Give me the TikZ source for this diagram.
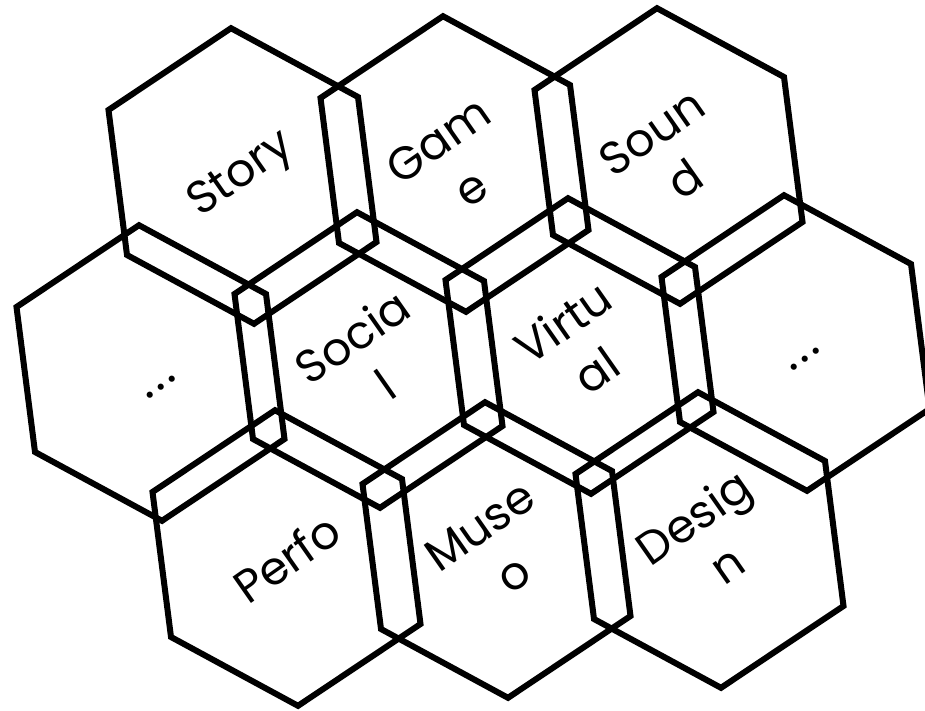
\documentclass[tikz,border=0pt]{standalone}
\usepackage{fontspec}
\usetikzlibrary{calc}
\setmainfont{Poppins}
\begin{document}
\begin{tikzpicture}[x=1pt,y=-1pt,
  hexa/.style={draw=black,line width=6pt,line join=miter},
  lab/.style={rotate=35,align=center,inner sep=0pt,font=\fontsize{46}{58}\selectfont},
  dotlab/.style={rotate=35,inner sep=0pt,font=\fontsize{50}{58}\selectfont}]
\useasboundingbox (0,0) rectangle (925,710);
\coordinate (story)  at (242.5,176);
\coordinate (game)   at (454.5,164);
\coordinate (sound)  at (668.5,156);
\coordinate (dotsl)  at (150.5,373);
\coordinate (social) at (368.5,360);
\coordinate (virtual) at (579.5,346);
\coordinate (dotsr)  at (795.5,343);
\coordinate (perfo)  at (286.5,558);
\coordinate (museo)  at (496.5,550);
\coordinate (design) at (709.5,540);
\foreach \c in {story,game,sound,dotsl,social,virtual,dotsr,perfo,museo,design}
  \draw[hexa,shift={(\c)}] (-11.5,-147.8) -- (115.5,-79) -- (134,66) -- (11.5,147.8) -- (-115.5,79) -- (-134,-66) -- cycle;
\node[lab] (tstory) at (story) {Story};
\node[lab] (tgame) at (game) {Gam\\e};
\node[lab] (tsound) at (sound) {Soun\\d};
\node[dotlab] (tdotsl) at ($(dotsl)+(10.5,14)$) {.\kern3pt.\kern3pt.};
\node[lab] (tsocial) at (social) {Socia\\l};
\node[lab] (tvirtual) at (virtual) {Virtu\\al};
\node[dotlab] (tdotsr) at ($(dotsr)+(9.5,16)$) {.\kern3pt.\kern3pt.};
\node[lab] (tperfo) at (perfo) {Perfo};
\node[lab] (tmuseo) at (museo) {Muse\\o};
\node[lab] (tdesign) at (design) {Desig\\n};
\end{tikzpicture}
\end{document}
